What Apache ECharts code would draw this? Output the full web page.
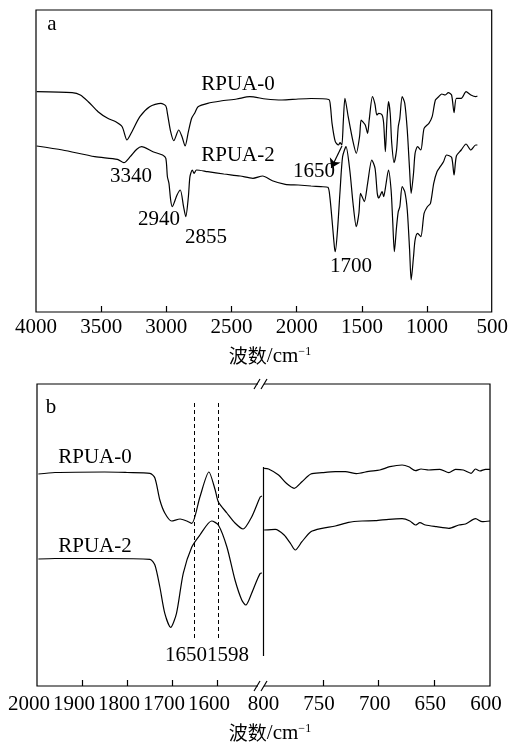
<!DOCTYPE html>
<html>
<head>
<meta charset="utf-8">
<script src="https://cdn.jsdelivr.net/npm/echarts@6/dist/echarts.min.js"></script>
<style>
html, body { margin: 0; padding: 0; background: #fff; }
#chart { width: 511px; height: 744px; }
</style>
</head>
<body>
<div id="chart"></div>
<script>
// panel a: full spectrum, wavenumber (cm-1) and relative transmittance (a.u.)
var aWave0 = [3995, 3723, 3660, 3599, 3524, 3450, 3388, 3339, 3302, 3264, 3203, 3128, 3042, 3004, 2992, 2967, 2943, 2905, 2880, 2856, 2831, 2806, 2781, 2757, 2683, 2583, 2460, 2360, 2237, 2113, 1989, 1890, 1754, 1741, 1729, 1704, 1680, 1667, 1654, 1642, 1630, 1605, 1568, 1543, 1518, 1506, 1494, 1474, 1456, 1444, 1419, 1400, 1385, 1370, 1345, 1333, 1320, 1308, 1296, 1283, 1271, 1253, 1234, 1221, 1209, 1191, 1171, 1152, 1134, 1122, 1104, 1092, 1073, 1048, 1023, 986, 961, 936, 911, 887, 862, 837, 812, 793, 775, 738, 701, 664, 627, 614];
var aVal0 = [220.3, 219.3, 217, 210.3, 200.3, 193.7, 190.3, 185.3, 172, 180.3, 195.3, 205.3, 208.7, 206, 198.7, 180.3, 171.3, 182, 175.3, 166, 180.3, 193.7, 199.3, 205.3, 208.7, 211, 213, 215.3, 213, 212, 213, 213.5, 212.5, 205.3, 188.7, 170.3, 167, 169.3, 167, 192, 213.7, 195.3, 170.3, 158.7, 175.3, 192, 190.3, 187, 178.7, 192, 215.3, 208, 197, 198.7, 197, 188.7, 160.3, 192, 210.3, 198.7, 168.7, 149.3, 162, 185.3, 193.7, 215.3, 208.7, 182, 142, 118.7, 138.7, 158.7, 165.3, 162, 183.7, 188.7, 195.3, 212, 215.3, 218, 217, 219.3, 217, 199.3, 213.7, 213.7, 220.3, 217, 215.3, 216];
var aWave2 = [3995, 3797, 3549, 3376, 3326, 3277, 3227, 3190, 3103, 3029, 3004, 2992, 2980, 2967, 2955, 2918, 2893, 2868, 2851, 2831, 2819, 2801, 2787, 2769, 2683, 2559, 2434, 2336, 2261, 2187, 2088, 1989, 1890, 1815, 1761, 1746, 1729, 1711, 1704, 1687, 1667, 1648, 1622, 1593, 1568, 1543, 1523, 1511, 1498, 1481, 1456, 1424, 1399, 1382, 1370, 1345, 1333, 1320, 1296, 1276, 1264, 1251, 1234, 1221, 1209, 1191, 1171, 1152, 1134, 1122, 1104, 1092, 1073, 1048, 1023, 998, 974, 949, 924, 899, 874, 850, 812, 793, 775, 738, 701, 664, 627, 614];
var aVal2 = [166, 162, 155.3, 152.7, 149.3, 155.3, 162.7, 165.3, 160.3, 157, 153.7, 135.3, 128.7, 112, 105.3, 117, 122, 105.3, 95.3, 115.3, 135.3, 142, 138.7, 142, 140.3, 138, 136, 133.7, 136, 131.3, 127.7, 127, 126, 125.3, 124.7, 115.3, 92, 65.3, 60.3, 82, 122, 155.3, 165.3, 142, 108.7, 85.3, 98.7, 118.7, 115.3, 110.3, 128.7, 152, 143.7, 118.7, 114, 120.3, 115.3, 123.7, 142, 122, 92, 60.3, 85.3, 100.3, 105.3, 125.3, 120.3, 102, 62, 32, 55.3, 72, 78.7, 75.3, 98.7, 105.3, 108.7, 128.7, 140.3, 145.3, 150.3, 157, 154.7, 137, 156, 162, 168, 162, 167, 167];

// panel b, left part 2000-1500 cm-1
var bLeftWave0 = [1997, 1960, 1850, 1800, 1749, 1738, 1727, 1716, 1701, 1682, 1667, 1656, 1638, 1618, 1604, 1597, 1578, 1560, 1542, 1523, 1504, 1500];
var bLeftVal0 = [212, 213.5, 214, 213.5, 212.7, 208, 186, 173, 165, 167, 165, 162.7, 189, 214, 196, 184, 173, 163, 157, 169, 189, 190];
var bLeftWave2 = [1997, 1960, 1850, 1749, 1738, 1727, 1716, 1703, 1690, 1675, 1656, 1638, 1612, 1597, 1578, 1560, 1545, 1536, 1523, 1504, 1500];
var bLeftVal2 = [127, 127.5, 127.5, 126.7, 121, 99, 72.7, 58.7, 72.7, 112.7, 139, 151, 165, 161, 139, 106, 86, 81, 92.7, 112.7, 113];

// panel b, right part 800-600 cm-1
var bRightWave0 = [803, 799, 790, 783, 776, 769, 761, 751, 739, 730, 720, 709, 699, 690, 679, 673, 667, 662, 655, 645, 637, 631, 624, 617, 613, 609, 604, 600];
var bRightVal0 = [217.7, 217, 211, 202.7, 197.7, 204.3, 212, 213.3, 214.3, 214.3, 212.3, 214.7, 216, 219.3, 221, 219.3, 215.3, 217, 216, 216.7, 213.3, 216.7, 216, 212.7, 217, 215, 216.7, 216.7];
var bRightWave2 = [803, 793, 785, 779, 775, 769, 761, 751, 739, 727, 715, 703, 691, 679, 672, 667, 663, 658, 648, 637, 628, 622, 613, 607, 600];
var bRightVal2 = [156, 156.7, 151, 142, 136, 144.3, 154.3, 157.7, 160, 163.7, 165, 165.3, 166.7, 167.3, 165, 161, 163.3, 161, 159.3, 157.7, 161, 162, 167.3, 164.3, 165];

// tick labels
var aTicks = [500, 1000, 1500, 2000, 2500, 3000, 3500, 4000];
var bLeftTicks = [1600, 1700, 1800, 1900, 2000];
var bRightTicks = [600, 650, 700, 750, 800];

var markWaves = [1650, 1598];
var markLabels = ['1650', '1598'];

function zip(xs, ys) {
    var out = [];
    for (var i = 0; i < xs.length; i++) out.push([xs[i], ys[i]]);
    return out;
}

var serif = 'Liberation Serif';
var black = '#000';

function xAxisOf(grid, min, max, labels, ticks, labelShift, margin) {
    return {
        gridIndex: grid, type: 'value', inverse: true,
        min: min, max: max,
        axisLine: { show: false },
        splitLine: { show: false },
        axisTick: { inside: true, length: 6, customValues: ticks, lineStyle: { color: black, width: 1.2 } },
        axisLabel: {
            customValues: labels,
            formatter: function (v) { return String(v); },
            color: black, fontFamily: serif, fontSize: 21, margin: margin,
            padding: [0, labelShift * 2, 0, 0]
        }
    };
}

function lineOf(grid, data) {
    return {
        type: 'line', xAxisIndex: grid, yAxisIndex: grid, data: data,
        showSymbol: false, smooth: 0.25, silent: true,
        lineStyle: { color: black, width: 1.2 }
    };
}

function txt(s, x, y) {
    return {
        type: 'text', x: x, y: y, silent: true,
        style: { text: s, font: '21px "Liberation Serif"', fill: black,
                 textAlign: 'center', textVerticalAlign: 'middle', align: 'center', verticalAlign: 'middle' }
    };
}

function title(x, y) {
    return {
        type: 'text', x: x, y: y, silent: true,
        style: {
            text: '{z|波数}{e|/cm}{s|−1}', fill: black,
            textAlign: 'center', textVerticalAlign: 'middle', align: 'center', verticalAlign: 'middle',
            rich: {
                z: { fontFamily: 'Noto Sans CJK SC', fontSize: 19, fill: black },
                e: { fontFamily: serif, fontSize: 21, fill: black },
                s: { fontFamily: serif, fontSize: 12, fill: black, verticalAlign: 'top' }
            }
        }
    };
}

function slash(x, y) {
    return { type: 'line', silent: true, shape: { x1: x - 3, y1: y + 5, x2: x + 3, y2: y - 5 },
             style: { stroke: black, lineWidth: 1.2 } };
}

var s0 = lineOf(0, zip(aWave0, aVal0));
s0.markLine = {
    silent: true, symbol: ['none', 'arrow'], symbolSize: 9,
    label: { show: false },
    lineStyle: { color: black, width: 1.2, type: 'solid' },
    data: [[{ coord: [1653, 166] }, { coord: [1735, 144] }]]
};

var dashData = [];
for (var i = 0; i < markWaves.length; i++) {
    dashData.push([{ coord: [markWaves[i], 283] }, { coord: [markWaves[i], 47] }]);
}
var sb0 = lineOf(1, zip(bLeftWave0, bLeftVal0));
sb0.markLine = {
    silent: true, symbol: ['none', 'none'], label: { show: false },
    lineStyle: { color: black, width: 1, type: [4, 3] },
    data: dashData
};
var sr0 = lineOf(2, zip(bRightWave0, bRightVal0));
sr0.markLine = {
    silent: true, symbol: ['none', 'none'], label: { show: false },
    lineStyle: { color: black, width: 1.2, type: 'solid' },
    data: [[{ coord: [803.5, 219] }, { coord: [803.5, 30] }]]
};

var graphics = [
    { type: 'rect', silent: true, shape: { x: 36, y: 10, width: 455.7, height: 302 },
      style: { fill: 'none', stroke: black, lineWidth: 1.2 } },
    { type: 'rect', silent: true, shape: { x: 37, y: 384, width: 453, height: 302 },
      style: { fill: 'none', stroke: black, lineWidth: 1.2 } },
    { type: 'rect', silent: true, shape: { x: 258, y: 380, width: 6, height: 8 }, style: { fill: '#fff' } },
    { type: 'rect', silent: true, shape: { x: 258, y: 682, width: 6, height: 8 }, style: { fill: '#fff' } },
    slash(257, 384), slash(264, 384), slash(257, 686), slash(264, 686),
    txt('a', 52, 24), txt('RPUA-0', 238, 84), txt('RPUA-2', 238, 155),
    txt('3340', 131, 176), txt('2940', 159, 219), txt('2855', 206, 237),
    txt('1650', 314, 171), txt('1700', 351, 266),
    txt('b', 51, 407), txt('RPUA-0', 95, 457), txt('RPUA-2', 95, 546),
    txt(markLabels[0], 186, 655), txt(markLabels[1], 228, 655),
    title(270, 356), title(270, 733)
];

var chart = echarts.init(document.getElementById('chart'));
chart.setOption({
    animation: false,
    textStyle: { fontFamily: serif },
    grid: [
        { left: 36, top: 10, width: 470, height: 302 },
        { left: 37, top: 384, width: 225, height: 302 },
        { left: 263, top: 384, width: 227, height: 302 }
    ],
    xAxis: [
        xAxisOf(0, 500, 4000, aTicks, [1000, 1500, 2000, 2500, 3000, 3500], 0, 5),
        xAxisOf(1, 1500, 2000, bLeftTicks, [1600, 1700, 1800, 1900], 8, 8),
        xAxisOf(2, 600, 804, bRightTicks, [650, 700, 750], 4, 8)
    ],
    yAxis: [
        { gridIndex: 0, type: 'value', min: 0, max: 302, show: false },
        { gridIndex: 1, type: 'value', min: 0, max: 302, show: false },
        { gridIndex: 2, type: 'value', min: 0, max: 302, show: false }
    ],
    series: [
        s0,
        lineOf(0, zip(aWave2, aVal2)),
        sb0,
        lineOf(1, zip(bLeftWave2, bLeftVal2)),
        sr0,
        lineOf(2, zip(bRightWave2, bRightVal2))
    ],
    graphic: graphics
});
</script>
</body>
</html>
